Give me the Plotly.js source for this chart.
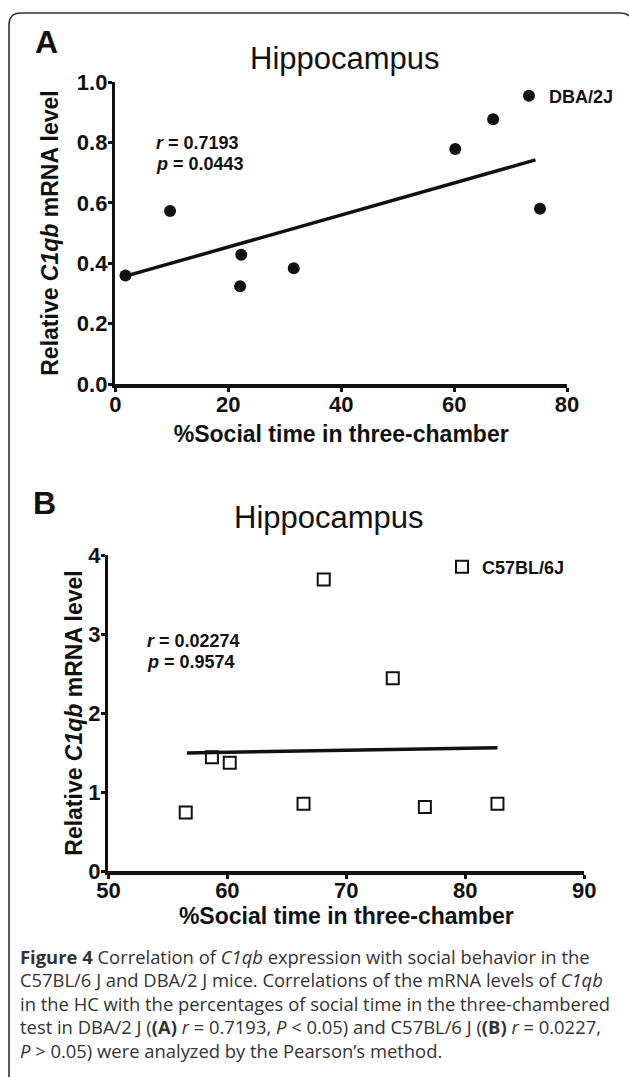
<!DOCTYPE html>
<html>
<head>
<meta charset="utf-8">
<script src="https://cdn.plot.ly/plotly-3.0.1.min.js"></script>
<style>html,body{margin:0;padding:0;background:#fff;}#chart{width:629px;height:1077px;}</style>
</head>
<body>
<div id="chart"></div>
<script>
// ---- Data ----
const dbaX = [1.8, 9.7, 22.3, 22.1, 31.6, 60.2, 66.9, 75.2];
const dbaY = [0.359, 0.573, 0.428, 0.324, 0.383, 0.778, 0.877, 0.580];
const dbaFitX = [1.8, 74.4];
const dbaFitY = [0.357, 0.742];

const c57X = [56.5, 58.7, 60.2, 66.4, 68.1, 73.9, 76.6, 82.7];
const c57Y = [0.74, 1.44, 1.37, 0.85, 3.69, 2.44, 0.81, 0.85];
const c57FitX = [56.6, 82.7];
const c57FitY = [1.494, 1.561];

const xTicksA = [0, 20, 40, 60, 80];
const yTicksA = [0, 0.2, 0.4, 0.6, 0.8, 1.0];
const xTicksB = [50, 60, 70, 80, 90];
const yTicksB = [0, 1, 2, 3, 4];

const statsA = ["<i>r</i> = 0.7193", "<i>p</i> = 0.0443"];
const statsB = ["<i>r</i> = 0.02274", "<i>p</i> = 0.9574"];

const captionLines = [
  "<b>Figure 4</b> Correlation of <i>C1qb</i> expression with social behavior in the",
  "C57BL/6 J and DBA/2 J mice. Correlations of the mRNA levels of <i>C1qb</i>",
  "in the HC with the percentages of social time in the three-chambered",
  "test in DBA/2 J (<b>(A)</b> <i>r</i> = 0.7193, <i>P</i> &lt; 0.05) and C57BL/6 J (<b>(B)</b> <i>r</i> = 0.0227,",
  "<i>P</i> &gt; 0.05) were analyzed by the Pearson’s method."
];

// ---- Layout helpers ----
const W = 629, H = 1077;
const px = v => v / W;
const py = v => 1 - v / H;
const AR = "Arial, 'Liberation Sans', sans-serif";
const INK = "#111";

function axis(domain, range, ticks, fmt, title, standoff, anchor, labelShift) {
  return {
    domain: domain, range: range, tickvals: ticks, tickformat: fmt, anchor: anchor,
    showline: true, linewidth: 3.5, linecolor: INK, mirror: false,
    ticks: "outside", ticklen: 4, tickwidth: 3, tickcolor: INK,
    ticklabelstandoff: labelShift,
    showgrid: false, zeroline: false, automargin: false, fixedrange: true,
    tickfont: {family: AR, size: 22, color: INK, weight: 700},
    title: {text: title, standoff: standoff, font: {family: AR, size: 23, color: INK, weight: 700}}
  };
}

const traces = [
  {x: dbaX, y: dbaY, type: "scatter", mode: "markers", name: "DBA/2J",
   xaxis: "x", yaxis: "y", legend: "legend", cliponaxis: false,
   marker: {symbol: "circle", size: 12, color: INK}},
  {x: dbaFitX, y: dbaFitY, type: "scatter", mode: "lines", showlegend: false,
   xaxis: "x", yaxis: "y", line: {color: INK, width: 3.5}},
  {x: c57X, y: c57Y, type: "scatter", mode: "markers", name: "C57BL/6J",
   xaxis: "x2", yaxis: "y2", legend: "legend2", cliponaxis: false,
   marker: {symbol: "square-open", size: 12, color: INK, line: {width: 2, color: INK}}},
  {x: c57FitX, y: c57FitY, type: "scatter", mode: "lines", showlegend: false,
   xaxis: "x2", yaxis: "y2", line: {color: INK, width: 3.5}}
];

const ann = [];
function txt(t, x, y, size, opts) {
  ann.push(Object.assign({text: t, x: px(x), y: py(y), xref: "paper", yref: "paper",
    showarrow: false, xanchor: "center", yanchor: "middle",
    font: {family: AR, size: size, color: INK}}, opts || {}));
}
txt("A", 46, 42, 32, {font: {family: AR, size: 32, color: INK, weight: 700}});
txt("B", 44, 503, 32, {font: {family: AR, size: 32, color: INK, weight: 700}});
txt("Hippocampus", 345, 58, 31);
txt("Hippocampus", 329, 518, 31);
statsA.forEach((s, i) => txt(s, 154, 143 + i * 21, 18,
  {xanchor: "left", font: {family: AR, size: 18, color: INK, weight: 700}}));
statsB.forEach((s, i) => txt(s, 145, 641 + i * 21, 18,
  {xanchor: "left", font: {family: AR, size: 18, color: INK, weight: 700}}));
captionLines.forEach((s, i) => txt(s, 18, 956 + i * 23.6, 18.4,
  {xanchor: "left", font: {family: "'Open Sans', sans-serif", size: 18.4, color: "#333"}}));

// frame path (rounded box around figure)
function P(x, y) { return px(x).toFixed(5) + "," + py(y).toFixed(5); }
const framePath = "M" + P(9, 1090) + " L" + P(9, 25) + " Q" + P(9, 13) + " " + P(21, 13) +
  " L" + P(620, 13) + " Q" + P(633, 13) + " " + P(633, 26) + " L" + P(633, 1090);

const layout = {
  width: W, height: H, margin: {l: 0, r: 0, t: 0, b: 0},
  paper_bgcolor: "#fff", plot_bgcolor: "rgba(0,0,0,0)",
  showlegend: true,
  xaxis: axis([px(115.3), px(567.1)], [0, 80], xTicksA, "d", "%Social time in three-chamber", 11, "y", -6),
  yaxis: axis([py(384), py(82)], [0, 1], yTicksA, ".1f", "Relative <i>C1qb</i> mRNA level", 13, "x", -4),
  xaxis2: axis([px(108.4), px(584.3)], [50, 90], xTicksB, "d", "%Social time in three-chamber", 7, "y2", -7),
  yaxis2: axis([py(871), py(555)], [0, 4], yTicksB, "d", "Relative <i>C1qb</i> mRNA level", 0, "x2", -4),
  legend: {x: px(509), y: py(96), xanchor: "left", yanchor: "middle", bgcolor: "rgba(0,0,0,0)",
    itemwidth: 30, font: {family: AR, size: 18, color: INK, weight: 700}},
  legend2: {x: px(442), y: py(567), xanchor: "left", yanchor: "middle", bgcolor: "rgba(0,0,0,0)",
    itemwidth: 30, font: {family: AR, size: 18, color: INK, weight: 700}},
  annotations: ann,
  shapes: [{type: "path", xref: "paper", yref: "paper", path: framePath,
    line: {color: "#333", width: 1.6}}]
};

Plotly.newPlot("chart", traces, layout, {staticPlot: true, displayModeBar: false});
</script>
</body>
</html>
